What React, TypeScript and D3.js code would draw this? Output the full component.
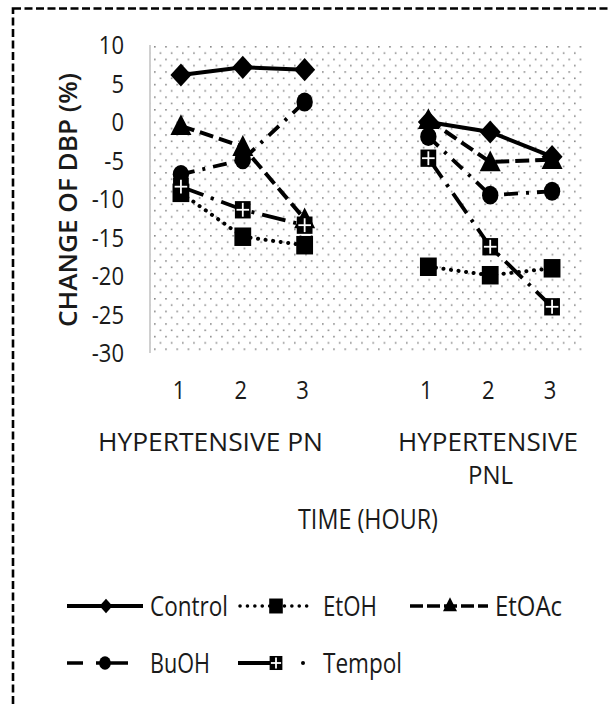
import React from "react";
import * as d3 from "d3";

const hours = ["1", "2", "3", "", "1", "2", "3"];
const groupLabels = ["HYPERTENSIVE PN", "HYPERTENSIVE", "PNL"];
const yTicks = [10, 5, 0, -5, -10, -15, -20, -25, -30];

const control = [6.1, 7.1, 6.8, null, 0.0, -1.3, -4.5];
const etoh = [-9.2, -14.9, -16.0, null, -18.8, -19.9, -19.0];
const etoac = [-0.5, -3.2, -12.6, null, 0.3, -5.2, -4.9];
const buoh = [-6.8, -4.9, 2.6, null, -1.9, -9.5, -9.0];
const tempol = [-8.4, -11.4, -13.4, null, -4.7, -16.2, -24.0];

const seriesNames = ["Control", "EtOH", "EtOAc", "BuOH", "Tempol"];

const FONT = "'Open Sans', 'Noto Sans', sans-serif";

type Kind = "diamond" | "square" | "triangle" | "circle" | "tempol";

function Marker({ kind, x, y, s }: { kind: Kind; x: number; y: number; s: number }) {
  const w = s / 2;
  const h = (s / 2) * 1.1;
  if (kind === "diamond")
    return <path d={`M${x},${y - h}L${x + w},${y}L${x},${y + h}L${x - w},${y}Z`} fill="#000" />;
  if (kind === "square")
    return <rect x={x - w * 0.8} y={y - h * 0.8} width={w * 1.6} height={h * 1.6} fill="#000" />;
  if (kind === "triangle")
    return <path d={`M${x},${y - h}L${x + w},${y + h * 0.8}L${x - w},${y + h * 0.8}Z`} fill="#000" />;
  if (kind === "circle")
    return <ellipse cx={x} cy={y} rx={w * 0.78} ry={h * 0.82} fill="#000" />;
  return (
    <g>
      <rect x={x - w * 0.75} y={y - h * 0.75} width={w * 1.5} height={h * 1.5} fill="#000" />
      <line x1={x} x2={x} y1={y - h * 0.6} y2={y + h * 0.6} stroke="#fff" strokeWidth={1.8} />
      <line x1={x - w * 0.6} x2={x + w * 0.6} y1={y} y2={y} stroke="#fff" strokeWidth={1.8} />
    </g>
  );
}

function Txt({
  x, y, text, size, sx = 1, anchor = "start", weight = 400, len, rotate = 0,
}: {
  x: number; y: number; text: string; size: number; sx?: number; anchor?: string; weight?: number; len?: number; rotate?: number;
}) {
  return (
    <text
      transform={`translate(${x},${y}) rotate(${rotate}) scale(${sx},1)`}
      fontFamily={FONT}
      fontSize={size}
      fontWeight={weight}
      textAnchor={anchor}
      fill="#1a1a1a"
      textLength={len}
      lengthAdjust={len ? "spacingAndGlyphs" : undefined}
    >
      {text}
    </text>
  );
}

export default function App() {
  const left = 150, right = 583, top = 45, bottom = 353;
  const x = d3.scaleBand<number>().domain(d3.range(hours.length)).range([left, right]);
  const cx = (i: number) => (x(i) as number) + x.bandwidth() / 2;
  const y = d3.scaleLinear().domain([-30, 10]).range([bottom, top]);

  const line = d3
    .line<number | null>()
    .defined((d) => d !== null)
    .x((_, i) => cx(i))
    .y((d) => y(d as number));

  const series: { name: string; data: (number | null)[]; kind: Kind; dash: string; cap: string; w: number }[] = [
    { name: seriesNames[0], data: control, kind: "diamond", dash: "none", cap: "butt", w: 4 },
    { name: seriesNames[1], data: etoh, kind: "square", dash: "0.1 7.5", cap: "round", w: 4 },
    { name: seriesNames[2], data: etoac, kind: "triangle", dash: "14 6", cap: "butt", w: 4 },
    { name: seriesNames[3], data: buoh, kind: "circle", dash: "14 8 3 8", cap: "butt", w: 3.8 },
    { name: seriesNames[4], data: tempol, kind: "tempol", dash: "24 8 3 8", cap: "butt", w: 3.8 },
  ];

  const legendRow1 = 606, legendRow2 = 663;

  return (
    <svg
      width={610}
      height={707}
      style={{ position: "absolute", left: 0, top: 0, background: "#fff" }}
    >
      <defs>
        <pattern id="dots" width={11.2} height={12.6} patternUnits="userSpaceOnUse" x={154} y={46}>
          <rect x={0} y={0} width={1.6} height={1.6} fill="#8a8a8a" />
          <rect x={5.6} y={6.3} width={1.6} height={1.6} fill="#8a8a8a" />
        </pattern>
      </defs>
      <rect x={0} y={0} width={610} height={707} fill="#fff" />
      <rect x={13} y={8.5} width={640} height={760} fill="none" stroke="#000" strokeWidth={2.6} strokeDasharray="8 3.5" />

      <rect x={left} y={top} width={right - left} height={bottom - top} fill="url(#dots)" />
      <line x1={left} x2={left} y1={top} y2={bottom} stroke="#c0c0c0" strokeWidth={1.5} />

      {yTicks.map((t) => (
        <Txt key={t} x={124} y={y(t) + 9} text={String(t)} size={25} sx={0.88} anchor="end" />
      ))}
      {hours.map((h, i) =>
        h ? <Txt key={i} x={cx(i) - 2} y={399} text={h} size={25} sx={0.88} anchor="middle" /> : null
      )}

      <Txt x={98} y={451} text={groupLabels[0]} size={25.5} len={225} />
      <Txt x={398} y={451} text={groupLabels[1]} size={25.5} len={180} />
      <Txt x={468} y={484} text={groupLabels[2]} size={25.5} len={45} />
      <Txt x={298} y={529} text="TIME (HOUR)" size={27} len={140} />
      <Txt x={77} y={327} text="CHANGE OF DBP (%)" size={26} weight={600} len={254} rotate={-90} />

      {series.map((s) => (
        <path
          key={s.name}
          d={line(s.data) || ""}
          fill="none"
          stroke="#000"
          strokeWidth={s.w}
          strokeDasharray={s.dash}
          strokeLinecap={s.cap as any}
        />
      ))}
      {series.map((s) => (
        <g key={s.name + "m"}>
          {s.data.map((d, i) => (d === null ? null : <Marker key={i} kind={s.kind} x={cx(i)} y={y(d)} s={21} />))}
        </g>
      ))}

      {/* Legend row 1 */}
      <line x1={67} x2={143} y1={legendRow1} y2={legendRow1} stroke="#000" strokeWidth={4} />
      <Marker kind="diamond" x={106} y={legendRow1} s={13} />
      <Txt x={150} y={legendRow1 + 9.5} text={series[0].name} size={27} len={78} />

      <line x1={240} x2={310} y1={legendRow1} y2={legendRow1} stroke="#000" strokeWidth={3.5} strokeDasharray="0.1 7.3" strokeLinecap="round" />
      <Marker kind="square" x={276} y={legendRow1} s={17} />
      <Txt x={323} y={legendRow1 + 9.5} text={series[1].name} size={27} len={54} />

      <line x1={410} x2={488} y1={legendRow1} y2={legendRow1} stroke="#000" strokeWidth={3.5} strokeDasharray="13 4" />
      <Marker kind="triangle" x={450} y={legendRow1 - 1} s={14} />
      <Txt x={495} y={legendRow1 + 9.5} text={series[2].name} size={27} len={67} />

      {/* Legend row 2 */}
      <line x1={67} x2={128} y1={legendRow2} y2={legendRow2} stroke="#000" strokeWidth={3.5} strokeDasharray="16 13 33" />
      <Marker kind="circle" x={105} y={legendRow2} s={15} />
      <Txt x={150} y={legendRow2 + 9.5} text={series[3].name} size={27} len={60} />

      <line x1={238} x2={275} y1={legendRow2} y2={legendRow2} stroke="#000" strokeWidth={3.8} />
      <Marker kind="tempol" x={276} y={legendRow2} s={17} />
      <circle cx={303} cy={legendRow2} r={2} fill="#000" />
      <Txt x={323} y={legendRow2 + 9.5} text={series[4].name} size={27} len={79} />
    </svg>
  );
}
